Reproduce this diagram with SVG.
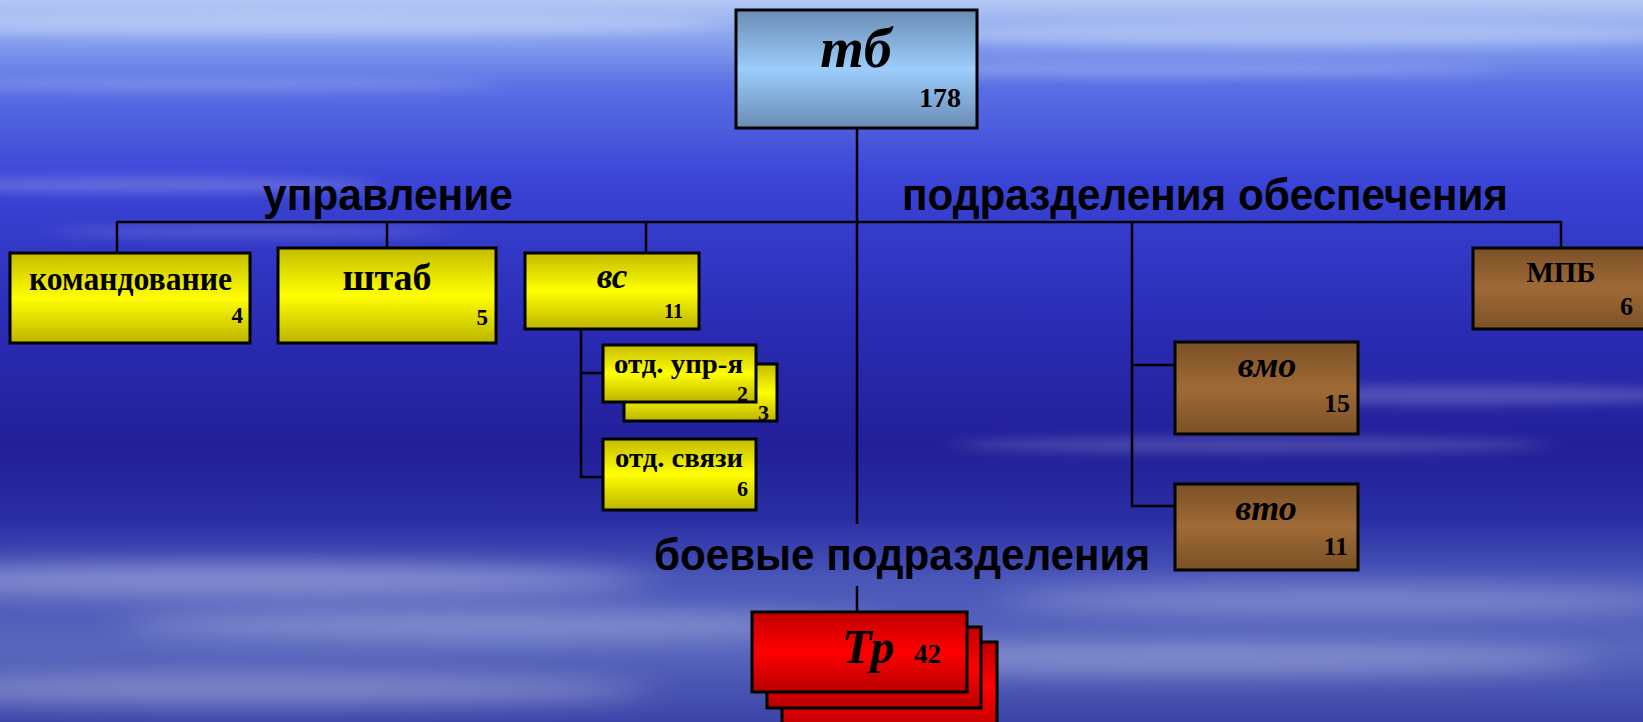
<svg xmlns="http://www.w3.org/2000/svg" width="1643" height="722" viewBox="0 0 1643 722">
<defs>
<linearGradient id="bg" x1="0" y1="0" x2="0" y2="1">
<stop offset="0" stop-color="#b4c8f4"/>
<stop offset="0.05" stop-color="#8aa4ee"/>
<stop offset="0.12" stop-color="#5a70e4"/>
<stop offset="0.25" stop-color="#3a44d6"/>
<stop offset="0.45" stop-color="#2a2cb4"/>
<stop offset="0.62" stop-color="#221f98"/>
<stop offset="0.72" stop-color="#2a2ea4"/>
<stop offset="0.8" stop-color="#4a56b8"/>
<stop offset="0.9" stop-color="#5866bc"/>
<stop offset="1" stop-color="#3c44a8"/>
</linearGradient>
<linearGradient id="gy" x1="0" y1="0" x2="0" y2="1">
<stop offset="0" stop-color="#c4bc00"/>
<stop offset="0.5" stop-color="#ffff00"/>
<stop offset="1" stop-color="#bcb400"/>
</linearGradient>
<linearGradient id="gb" x1="0" y1="0" x2="0" y2="1">
<stop offset="0" stop-color="#7a5126"/>
<stop offset="0.5" stop-color="#a06a36"/>
<stop offset="1" stop-color="#7a5126"/>
</linearGradient>
<linearGradient id="gr" x1="0" y1="0" x2="0" y2="1">
<stop offset="0" stop-color="#c00000"/>
<stop offset="0.5" stop-color="#ff0000"/>
<stop offset="1" stop-color="#b80000"/>
</linearGradient>
<linearGradient id="gt" x1="0" y1="0" x2="0" y2="1">
<stop offset="0" stop-color="#6a8cb4"/>
<stop offset="0.5" stop-color="#9ccdfc"/>
<stop offset="1" stop-color="#6a8cb4"/>
</linearGradient>
<filter id="blur" x="-20%" y="-200%" width="140%" height="500%">
<feGaussianBlur stdDeviation="14 6"/>
</filter>
<filter id="blur2" x="-20%" y="-200%" width="140%" height="500%">
<feGaussianBlur stdDeviation="24 12"/>
</filter>
</defs>
<style>
.box{stroke:#000;stroke-width:3}
.y{fill:url(#gy)}
.b{fill:url(#gb)}
.r{fill:url(#gr)}
.t{fill:url(#gt)}
.lbl{font-family:"Liberation Serif","Times New Roman",serif;font-weight:bold;fill:#000}
.it{font-style:italic}
.hd{font-family:"Liberation Sans",Arial,sans-serif;font-weight:bold;fill:#000;font-size:44px}
.conn line,.conn polyline{stroke:#000;stroke-width:2.5;fill:none}
</style>
<rect width="1643" height="722" fill="url(#bg)"/>
<g id="clouds" fill="#ffffff">
<ellipse cx="300" cy="25" rx="420" ry="12" opacity="0.25" filter="url(#blur)"/>
<ellipse cx="1300" cy="35" rx="380" ry="12" opacity="0.25" filter="url(#blur)"/>
<ellipse cx="200" cy="85" rx="300" ry="6" opacity="0.2" filter="url(#blur)"/>
<ellipse cx="1150" cy="70" rx="350" ry="6" opacity="0.2" filter="url(#blur)"/>
<ellipse cx="150" cy="185" rx="230" ry="8" opacity="0.22" filter="url(#blur)"/>
<ellipse cx="250" cy="232" rx="200" ry="5" opacity="0.18" filter="url(#blur)"/>
<ellipse cx="1450" cy="395" rx="250" ry="10" opacity="0.2" filter="url(#blur)"/>
<ellipse cx="1250" cy="445" rx="300" ry="8" opacity="0.18" filter="url(#blur)"/>
<ellipse cx="250" cy="580" rx="400" ry="16" opacity="0.35" filter="url(#blur2)"/>
<ellipse cx="500" cy="625" rx="380" ry="14" opacity="0.3" filter="url(#blur2)"/>
<ellipse cx="1350" cy="600" rx="350" ry="14" opacity="0.28" filter="url(#blur2)"/>
<ellipse cx="1200" cy="660" rx="400" ry="16" opacity="0.28" filter="url(#blur2)"/>
<ellipse cx="250" cy="690" rx="400" ry="16" opacity="0.3" filter="url(#blur2)"/>
</g>
<g class="conn">
<line x1="857" y1="128" x2="857" y2="524"/>
<line x1="857" y1="586" x2="857" y2="612"/>
<line x1="116" y1="222" x2="1562" y2="222"/>
<line x1="117" y1="222" x2="117" y2="253"/>
<line x1="387" y1="222" x2="387" y2="248"/>
<line x1="646" y1="222" x2="646" y2="253"/>
<line x1="1561" y1="222" x2="1561" y2="248"/>
<polyline points="1132,222 1132,506 1175,506"/>
<line x1="1132" y1="365" x2="1175" y2="365"/>
<polyline points="581,329 581,477 603,477"/>
<line x1="581" y1="373" x2="603" y2="373"/>
</g>
<g id="headings">
<text class="hd" x="263" y="210" textLength="250" lengthAdjust="spacingAndGlyphs">управление</text>
<text class="hd" x="902" y="210" textLength="606" lengthAdjust="spacingAndGlyphs">подразделения обеспечения</text>
<text class="hd" x="654" y="570" textLength="496" lengthAdjust="spacingAndGlyphs">боевые подразделения</text>
</g>
<g id="tb">
<rect class="box t" x="736" y="10" width="241" height="118"/>
<text class="lbl it" x="856" y="67" font-size="56" text-anchor="middle">тб</text>
<text class="lbl" x="961" y="107" font-size="28" text-anchor="end">178</text>
</g>
<g id="komandovanie">
<rect class="box y" x="10" y="253" width="240" height="90"/>
<text class="lbl" x="29" y="290" font-size="34" textLength="203" lengthAdjust="spacingAndGlyphs">командование</text>
<text class="lbl" x="243" y="323" font-size="23" text-anchor="end">4</text>
</g>
<g id="shtab">
<rect class="box y" x="278" y="248" width="218" height="95"/>
<text class="lbl" x="387" y="290" font-size="38" text-anchor="middle">штаб</text>
<text class="lbl" x="488" y="325" font-size="23" text-anchor="end">5</text>
</g>
<g id="vs">
<rect class="box y" x="525" y="253" width="174" height="76"/>
<text class="lbl it" x="612" y="288" font-size="35" text-anchor="middle">вс</text>
<text class="lbl" x="683" y="318" font-size="20" text-anchor="end">11</text>
</g>
<g id="otd-upr">
<rect class="box y" x="624" y="364" width="153" height="57"/>
<text class="lbl" x="769" y="420" font-size="22" text-anchor="end">3</text>
<rect class="box y" x="603" y="345" width="153" height="57"/>
<text class="lbl" x="614" y="373" font-size="27" textLength="129" lengthAdjust="spacingAndGlyphs">отд. упр-я</text>
<text class="lbl" x="748" y="401" font-size="22" text-anchor="end">2</text>
</g>
<g id="otd-svyazi">
<rect class="box y" x="603" y="439" width="153" height="71"/>
<text class="lbl" x="615" y="467" font-size="27" textLength="128" lengthAdjust="spacingAndGlyphs">отд. связи</text>
<text class="lbl" x="748" y="496" font-size="22" text-anchor="end">6</text>
</g>
<g id="mpb">
<rect class="box b" x="1473" y="248" width="180" height="81"/>
<text class="lbl" x="1561" y="282" font-size="29" text-anchor="middle">МПБ</text>
<text class="lbl" x="1633" y="315" font-size="26" text-anchor="end">6</text>
</g>
<g id="vmo">
<rect class="box b" x="1175" y="342" width="183" height="92"/>
<text class="lbl it" x="1267" y="377" font-size="36" text-anchor="middle">вмо</text>
<text class="lbl" x="1350" y="412" font-size="26" text-anchor="end">15</text>
</g>
<g id="vto">
<rect class="box b" x="1175" y="484" width="183" height="86"/>
<text class="lbl it" x="1266" y="520" font-size="36" text-anchor="middle">вто</text>
<text class="lbl" x="1348" y="555" font-size="26" text-anchor="end">11</text>
</g>
<g id="tr">
<rect class="box r" x="782" y="642" width="215" height="90"/>
<rect class="box r" x="767" y="627" width="214" height="81"/>
<rect class="box r" x="752" y="612" width="215" height="80"/>
<text class="lbl it" x="842" y="663" font-size="48">Тр</text>
<text class="lbl" x="914" y="663" font-size="27">42</text>
</g>
</svg>
